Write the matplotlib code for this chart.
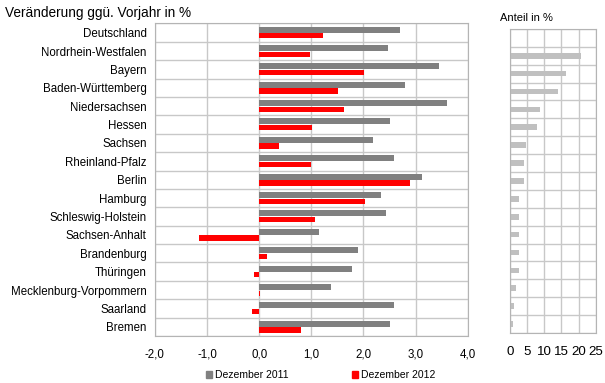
import numpy as np
import matplotlib.pyplot as plt
from matplotlib.ticker import FuncFormatter
from matplotlib.patches import Patch

laender = ["Deutschland", "Nordrhein-Westfalen", "Bayern", "Baden-Württemberg",
           "Niedersachsen", "Hessen", "Sachsen", "Rheinland-Pfalz", "Berlin",
           "Hamburg", "Schleswig-Holstein", "Sachsen-Anhalt", "Brandenburg",
           "Thüringen", "Mecklenburg-Vorpommern", "Saarland", "Bremen"]

dez_2011 = [2.70, 2.47, 3.45, 2.79, 3.60, 2.51, 2.19, 2.58, 3.13,
            2.34, 2.43, 1.14, 1.89, 1.78, 1.38, 2.58, 2.51]
dez_2012 = [1.22, 0.97, 2.01, 1.52, 1.63, 1.01, 0.38, 0.99, 2.90,
            2.03, 1.07, -1.15, 0.15, -0.09, 0.01, -0.13, 0.80]

# Anteil in % (kein Wert fuer Deutschland)
anteil = [0, 20.7, 16.3, 14.1, 8.8, 7.8, 4.7, 4.2, 4.2,
          2.7, 2.7, 2.5, 2.5, 2.5, 1.8, 1.2, 0.8]

grid_col = "#c8c8c8"
plt.rcParams["font.family"] = "Liberation Sans"

fig = plt.figure(figsize=(6.05, 3.83), dpi=100)

# Hauptdiagramm
ax = fig.add_axes([0.256, 0.1227, 0.517, 0.816])
y = np.arange(len(laender))
ax.barh(y - 0.17, dez_2011, height=0.33, color="#808080", label="Dezember 2011")
ax.barh(y + 0.17, dez_2012, height=0.29, color="#ff0000", label="Dezember 2012")

ax.set_xlim(-2, 4)
ax.set_ylim(len(laender) - 0.5, -0.5)
ax.set_xticks(np.arange(-2, 5, 1))
ax.xaxis.set_major_formatter(FuncFormatter(lambda v, p: f"{v:.1f}".replace(".", ",")))
ax.set_yticks(y)
ax.set_yticklabels(laender)
ax.set_yticks(np.arange(-0.5, len(laender)), minor=True)
ax.tick_params(which="both", length=0, labelsize=8.3)
ax.tick_params(axis="x", pad=9)
ax.tick_params(axis="y", pad=6)
ax.grid(axis="x", which="major", color=grid_col, lw=1)
ax.grid(axis="y", which="minor", color=grid_col, lw=1)
ax.set_axisbelow(True)
for s in ax.spines.values():
    s.set_color("#b4b4b4")

fig.text(0.008, 0.955, "Veränderung ggü. Vorjahr in %", fontsize=9.8, va="baseline")

# Anteil in %
ax2 = fig.add_axes([0.843, 0.1305, 0.1417, 0.794])
ax2.barh(y, anteil, height=0.32, color="#c0c0c0")
ax2.set_xlim(0, 25)
ax2.set_ylim(len(laender) - 0.5, -0.5)
ax2.set_xticks(np.arange(0, 30, 5))
ax2.set_yticks([])
ax2.set_yticks(np.arange(-0.5, len(laender)), minor=True)
ax2.tick_params(which="both", length=0, labelsize=9.6)
ax2.tick_params(axis="x", pad=9)
ax2.grid(axis="x", which="major", color=grid_col, lw=1)
ax2.grid(axis="y", which="minor", color=grid_col, lw=1)
ax2.set_axisbelow(True)
for s in ax2.spines.values():
    s.set_color("#b4b4b4")
fig.text(0.826, 0.945, "Anteil in %", fontsize=8, va="baseline")

handles = [Patch(color="#808080"), Patch(color="#ff0000")]
fig.legend(handles, ["Dezember 2011", "Dezember 2012"], loc="center",
           bbox_to_anchor=(0.53, 0.02), ncol=2, frameon=False, fontsize=7.5,
           handlelength=0.6, handleheight=0.6, handletextpad=0.3, columnspacing=6.0)

fig.savefig("out.png", dpi=100)
